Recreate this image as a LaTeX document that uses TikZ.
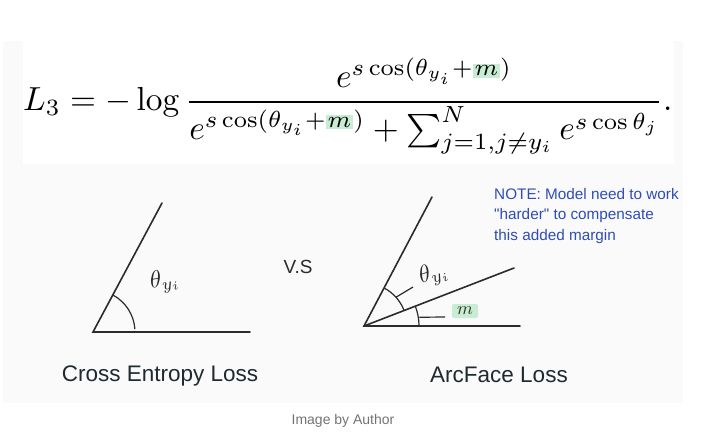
\documentclass[tikz,border=0pt]{standalone}
\usepackage[no-math]{fontspec}
\setmainfont{Liberation Sans}
\newfontfamily\notefont{Liberation Sans}[Ligatures=TeXOff]
\usepackage{amsmath}
\usepackage{graphicx}
\definecolor{ink}{HTML}{2B2B2B}
\definecolor{labelink}{HTML}{1E2A30}
\definecolor{notes}{HTML}{2F4DB6}
\definecolor{mhigh}{HTML}{C8EDD3}
\definecolor{panel}{HTML}{FAFAFA}
\definecolor{caption}{HTML}{737373}
\newcommand{\mhl}{{\setlength{\fboxsep}{0.6pt}\colorbox{mhigh}{$\scriptstyle m$}}}
\newcommand{\thyi}{\scalebox{2.4}{$\theta_{y_i}$}}

\begin{document}
\begin{tikzpicture}[x=1pt,y=-1pt,
	leg/.style={draw=ink,line width=1.6pt,line cap=round},
	arcline/.style={draw=ink,line width=1.2pt},
	lbl/.style={text=labelink,font=\fontsize{22.5}{26}\selectfont},
	angle label/.style={text=ink,inner sep=1pt}]
	\useasboundingbox (0,0) rectangle (706,432);
	\fill[panel] (3,41) rectangle (683,403);
	\fill[white] (23,41) rectangle (674,164);
	% the loss
	\node[anchor=west,inner sep=0pt] (loss) at (23,106) {\resizebox{649pt}{!}{$\displaystyle L_3=-\log\frac{e^{s\cos(\theta_{y_i}+\mhl)}}{e^{s\cos(\theta_{y_i}+\mhl)}+\sum_{j=1,j\neq y_i}^{N}e^{s\cos\theta_j}}.$}};
	% cross entropy
	\coordinate (ce) at (93,332);
	\coordinate (ceX) at (250,332);
	\coordinate (ceY) at (162,203);
	\draw[leg] (ceX) -- (ce) -- (ceY);
	\draw[arcline] ([shift={(4:42pt)}]ce) arc[start angle=4,end angle=62,radius=42pt];
	\node[angle label,rotate=10] (ceth) at (165,281) {\thyi};
	\node[lbl] (celbl) at (160,376) {Cross Entropy Loss};
	\node[text=ink,font=\fontsize{19}{22}\selectfont] (vs) at (298,267) {V.S};
	% arcface
	\coordinate (af) at (364,326);
	\coordinate (afX) at (520,326);
	\coordinate (afY) at (432,197);
	\coordinate (afW) at (514,268);
	\draw[leg] (afX) -- (af) -- (afY);
	\draw[leg] (af) -- (afW);
	\draw[arcline] ([shift={(21:43pt)}]af) arc[start angle=21,end angle=62,radius=43pt];
	\draw[arcline] ([shift={(1:55pt)}]af) arc[start angle=1,end angle=21,radius=55pt];
	\coordinate (thA) at ([shift={(42:43pt)}]af);
	\coordinate (thB) at (413,287);
	\draw[arcline] (thA) -- (thB);
	\node[angle label,rotate=18] (afth) at (434,274) {\thyi};
	\coordinate (mA) at ([shift={(9:56pt)}]af);
	\coordinate (mB) at (445,317);
	\draw[arcline] (mA) -- (mB);
	\node[fill=mhigh,rounded corners=2pt,minimum width=26pt,minimum height=14pt,inner sep=0pt,text=ink] (mlbl) at (465,311) {\scalebox{1.8}{$m$}};
	\node[lbl] (aflbl) at (499,375) {ArcFace Loss};
	\node[anchor=north west,align=left,inner sep=0pt,text=notes,font=\notefont\fontsize{15.3}{20.5}\selectfont] (note) at (494,188) {NOTE: Model need to work\\"harder" to compensate\\this added margin};
	\node[text=caption,font=\fontsize{14}{16}\selectfont] (cap) at (343,421) {Image by Author};
\end{tikzpicture}
\end{document}
